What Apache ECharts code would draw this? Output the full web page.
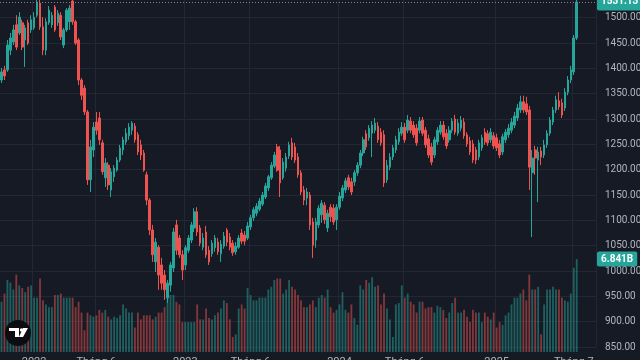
<!DOCTYPE html>
<html><head><meta charset="utf-8">
<script src="https://cdn.jsdelivr.net/npm/echarts@6/dist/echarts.min.js"></script>
<style>html,body{margin:0;padding:0;background:#161a25;}#c{width:640px;height:360px;}</style>
</head><body><div id="c"></div>
<script>
// Weekly OHLC (price), index 0..194
const openP = [
1377,1397,1397,1436,1452,1486,1470,1490,1456,1490,
1476,1480,1505,1529,1482,1436,1490,1486,1521,1490,
1505,1446,1476,1492,1533,1492,1456,1377,1361,1314,
1180,1239,1294,1302,1253,1184,1209,1160,1186,1199,
1219,1239,1255,1267,1278,1286,1269,1249,1233,1190,
1140,1081,1018,1047,1012,992,947,972,1006,1091,
1065,1032,1012,1041,1061,1085,1117,1085,1047,1077,
1041,1034,1046,1057,1034,1049,1081,1067,1055,1038,
1047,1075,1071,1065,1087,1105,1114,1122,1132,1146,
1164,1184,1207,1245,1239,1184,1203,1227,1253,1245,
1225,1194,1160,1144,1150,1097,1061,1091,1111,1130,
1085,1126,1124,1101,1126,1144,1160,1184,1176,1176,
1194,1209,1233,1271,1263,1272,1278,1286,1274,1269,
1180,1205,1225,1239,1255,1272,1284,1278,1296,1288,
1282,1278,1298,1278,1261,1245,1229,1255,1274,1288,
1272,1259,1278,1300,1272,1282,1294,1269,1257,1251,
1239,1225,1243,1274,1271,1259,1267,1263,1251,1235,
1259,1269,1278,1288,1302,1318,1334,1330,1318,1194,
1239,1219,1237,1229,1249,1272,1294,1318,1336,1332,
1322,1353,1377,1393,1460];
const closeP = [
1393,1385,1446,1460,1476,1442,1501,1442,1480,1450,
1496,1501,1531,1482,1436,1492,1515,1505,1476,1509,
1462,1476,1515,1519,1492,1450,1377,1347,1314,1180,
1245,1284,1278,1259,1196,1213,1170,1196,1203,1219,
1243,1259,1272,1284,1292,1259,1235,1229,1199,1140,
1081,1032,1057,992,976,963,976,1012,1077,1041,
1032,1002,1046,1065,1091,1117,1077,1055,1065,1032,
1018,1055,1065,1038,1053,1069,1057,1047,1036,1049,
1065,1059,1059,1089,1105,1121,1128,1138,1150,1168,
1186,1209,1229,1199,1174,1215,1225,1249,1225,1219,
1190,1156,1140,1156,1091,1051,1097,1124,1134,1101,
1114,1107,1097,1126,1148,1164,1178,1166,1156,1194,
1209,1233,1259,1245,1282,1288,1292,1259,1253,1174,
1209,1225,1243,1259,1274,1284,1259,1298,1278,1269,
1253,1296,1272,1249,1229,1215,1259,1278,1288,1265,
1247,1278,1296,1274,1292,1298,1267,1251,1235,1219,
1219,1253,1263,1255,1253,1274,1247,1243,1229,1265,
1274,1282,1294,1306,1322,1334,1318,1314,1205,1223,
1223,1235,1225,1249,1272,1298,1318,1338,1324,1308,
1353,1377,1397,1460,1531.13];
const lowP = [
1371,1377,1393,1426,1446,1436,1466,1436,1403,1446,
1470,1476,1501,1476,1426,1426,1486,1480,1472,1484,
1456,1440,1472,1476,1486,1446,1367,1338,1308,1170,
1156,1225,1269,1249,1190,1166,1160,1146,1176,1196,
1215,1229,1249,1259,1269,1253,1229,1219,1196,1130,
1071,1018,998,963,963,943,937,959,998,1032,
1026,982,1002,1036,1055,1077,1069,1049,1041,1026,
1012,1028,1038,1032,1018,1044,1049,1041,1030,1032,
1044,1053,1051,1061,1081,1099,1108,1118,1128,1142,
1158,1180,1203,1196,1146,1180,1196,1221,1219,1213,
1184,1150,1130,1130,1081,1026,1046,1085,1095,1093,
1077,1097,1091,1081,1121,1138,1154,1160,1150,1168,
1188,1203,1227,1239,1257,1225,1272,1253,1247,1166,
1174,1199,1219,1233,1249,1267,1253,1272,1272,1263,
1247,1272,1267,1243,1223,1209,1223,1249,1269,1259,
1241,1253,1272,1269,1267,1276,1261,1245,1229,1213,
1211,1219,1237,1249,1247,1253,1241,1237,1223,1229,
1253,1263,1272,1282,1296,1312,1312,1308,1160,1067,
1190,1136,1209,1223,1243,1267,1288,1312,1318,1302,
1316,1347,1371,1387,1456];
const highP = [
1401,1405,1456,1470,1486,1505,1511,1496,1486,1496,
1505,1511,1535,1535,1501,1499,1523,1511,1525,1515,
1511,1480,1519,1525,1535,1496,1460,1381,1367,1318,
1259,1294,1314,1314,1259,1223,1215,1203,1209,1225,
1249,1265,1282,1292,1296,1292,1274,1259,1239,1196,
1144,1091,1065,1051,1026,1002,982,1018,1085,1101,
1071,1041,1051,1071,1097,1124,1126,1091,1075,1089,
1049,1061,1071,1065,1061,1077,1085,1075,1061,1057,
1071,1083,1079,1097,1111,1126,1134,1144,1156,1174,
1190,1215,1235,1251,1247,1223,1233,1255,1263,1253,
1233,1199,1168,1164,1156,1105,1105,1130,1140,1136,
1121,1132,1132,1132,1156,1170,1184,1190,1184,1199,
1215,1239,1265,1278,1288,1296,1302,1294,1282,1278,
1219,1233,1249,1267,1282,1294,1292,1308,1304,1296,
1290,1304,1304,1284,1269,1253,1265,1284,1296,1296,
1280,1286,1302,1308,1300,1306,1302,1274,1265,1259,
1245,1259,1269,1282,1278,1282,1274,1271,1259,1271,
1280,1290,1302,1314,1330,1346,1346,1344,1326,1239,
1247,1245,1245,1259,1278,1304,1324,1346,1353,1340,
1361,1385,1405,1466,1535];
// Weekly volume, billions
const volumeB = [
3.7,4.3,5.3,5.1,4.6,5.7,4.9,4.7,4.4,4.8,
4.9,4.0,4.0,5.4,3.8,3.5,3.3,3.3,4.2,4.2,
4.3,4.0,4.0,4.0,4.0,3.3,3.7,2.9,1.6,2.9,
2.7,2.6,2.7,3.1,2.9,3.1,2.6,2.4,2.6,2.5,
2.7,3.5,3.2,2.9,2.9,1.8,2.9,2.4,2.7,2.7,
2.7,2.4,2.6,2.9,2.9,3.3,5.1,4.2,4.2,3.7,
3.5,2.2,2.2,2.2,2.2,2.2,3.5,2.4,2.4,3.2,
2.5,2.4,2.7,2.9,3.2,3.8,3.6,2.4,1.1,1.3,
3.2,3.5,3.2,4.7,4.2,3.8,3.8,4.0,4.0,4.0,
4.6,4.8,5.3,5.4,5.4,4.3,4.6,5.3,4.8,4.6,
4.2,3.8,3.3,3.3,3.5,3.8,3.3,4.0,4.2,4.0,
4.6,3.3,2.9,3.1,3.5,4.4,3.1,2.9,3.5,2.5,
2.0,4.9,4.6,5.3,5.1,5.5,4.8,4.9,3.5,4.3,
3.2,2.4,1.1,3.5,3.6,4.9,4.0,4.3,3.7,3.5,
2.9,3.7,3.7,3.2,3.3,3.3,2.9,3.4,3.3,3.1,
2.5,2.9,3.6,4.0,2.9,2.9,3.1,2.6,2.2,3.1,
2.9,2.9,2.2,2.9,2.6,2.4,2.9,1.8,2.2,2.0,
2.7,2.9,3.5,4.0,4.0,4.3,4.6,3.8,5.7,4.6,
4.6,4.8,1.3,3.5,4.6,4.6,4.8,4.6,4.6,4.0,
3.8,3.7,4.3,6.2,6.841];
const tickLabels = ['2022','Tháng 6','2023','Tháng 6','2024','Tháng 6','2025','Tháng 7'];
const tickIndex = [11,32,62,84,114,136,167,193];
const lastPrice = 1531.13;
const lastVolume = 6.841;
const slotCount = 201; // includes empty future weeks on the right

const weeks = [];
const start = Date.UTC(2021, 9, 18);
for (let i = 0; i < slotCount; i++) weeks.push(new Date(start + i * 7 * 864e5).toISOString().slice(0, 10));
const tickMap = {};
tickIndex.forEach((k, j) => { tickMap[k] = tickLabels[j]; });

const UP = '#26a69a', DOWN = '#ef5350';
const candles = openP.map((o, i) => [o, closeP[i], lowP[i], highP[i]]);
const vols = volumeB.map((v, i) => ({
  value: v,
  itemStyle: { color: closeP[i] >= openP[i] ? 'rgba(38,166,154,0.5)' : 'rgba(239,83,80,0.5)' }
}));
const isTick = (idx) => tickMap[idx] !== undefined;
const FONT = 'Roboto, "Noto Sans", sans-serif';

const chart = echarts.init(document.getElementById('c'), null, { renderer: 'canvas' });
chart.setOption({
  backgroundColor: '#161a25',
  animation: false,
  grid: [
    { left: 0, right: 44, top: 0, height: 347, outerBoundsMode: 'none', containLabel: false },
    { left: 0, right: 44, top: 0, bottom: 8, outerBoundsMode: 'none', containLabel: false }
  ],
  xAxis: [
    { type: 'category', gridIndex: 0, data: weeks, boundaryGap: true,
      axisLine: { show: false }, axisTick: { show: false }, axisLabel: { show: false },
      splitLine: { show: true, interval: (i) => isTick(i), lineStyle: { color: '#232733', width: 1 } } },
    { type: 'category', gridIndex: 1, data: weeks, boundaryGap: true,
      axisLine: { show: false }, axisTick: { show: false }, splitLine: { show: false },
      axisLabel: { show: true, interval: (i) => isTick(i), formatter: (v, i) => tickMap[i] || '',
        color: '#b2b5be', fontSize: 11, fontFamily: FONT, margin: 5 } }
  ],
  yAxis: [
    { type: 'value', gridIndex: 0, position: 'right', min: 850, max: 1535, interval: 50,
      axisLine: { show: false }, axisTick: { show: false },
      axisLabel: { color: '#b2b5be', fontSize: 10, fontFamily: FONT, margin: 9, showMaxLabel: false,
        formatter: (v) => v.toFixed(2) },
      splitLine: { show: true, showMaxLine: false, lineStyle: { color: '#232733', width: 1 } } },
    { type: 'value', gridIndex: 1, min: 0, max: 25.9, show: false, splitLine: { show: false } }
  ],
  series: [
    { type: 'bar', xAxisIndex: 1, yAxisIndex: 1, data: vols, barWidth: '62%', silent: true, z: 2,
      markLine: { silent: true, symbol: 'none', data: [{ yAxis: lastVolume }],
        lineStyle: { color: 'rgba(0,0,0,0)', width: 1, type: 'solid' },
        label: { show: true, position: 'end', distance: 1, formatter: lastVolume.toFixed(3) + 'B',
          backgroundColor: UP, color: '#ffffff', fontSize: 10, fontWeight: 'bold', fontFamily: FONT,
          padding: [3, 4, 2, 4], borderRadius: 2 } } },
    { type: 'candlestick', xAxisIndex: 0, yAxisIndex: 0, data: candles, barWidth: '70%', z: 3,
      itemStyle: { color: UP, color0: DOWN, borderColor: UP, borderColor0: DOWN, borderWidth: 1 },
      markLine: { silent: true, symbol: 'none', data: [{ yAxis: lastPrice }],
        lineStyle: { color: '#7d8594', type: [1, 2], width: 1 },
        label: { show: true, position: 'end', distance: 1, formatter: lastPrice.toFixed(2),
          backgroundColor: UP, color: '#ffffff', fontSize: 10, fontWeight: 'bold', fontFamily: FONT,
          padding: [7, 4, 0, 4], borderRadius: 2 } } }
  ],
  graphic: [
    { type: 'circle', shape: { cx: 18, cy: 333, r: 13 }, style: { fill: '#0b0d12' }, z: 100 },
    { type: 'rect', shape: { x: 9, y: 328, width: 10, height: 3 }, style: { fill: '#ffffff' }, z: 101 },
    { type: 'rect', shape: { x: 15, y: 328, width: 4, height: 9 }, style: { fill: '#ffffff' }, z: 101 },
    { type: 'circle', shape: { cx: 21.5, cy: 330, r: 1.7 }, style: { fill: '#ffffff' }, z: 101 },
    { type: 'polygon', shape: { points: [[23, 328], [28, 328], [23, 337], [19, 337]] }, style: { fill: '#ffffff' }, z: 101 }
  ]
});
</script></body></html>
